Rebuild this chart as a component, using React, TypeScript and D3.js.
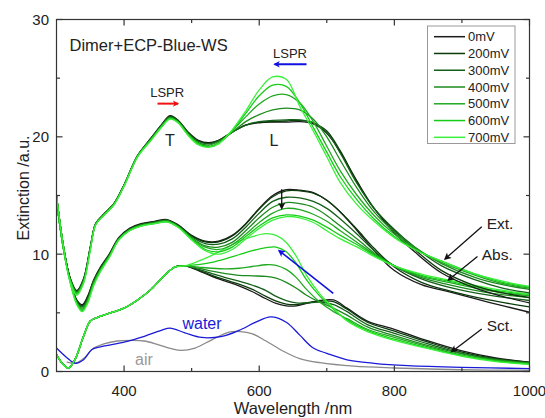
import * as d3 from "d3";

// legend / series
const voltages = ["0mV", "200mV", "300mV", "400mV", "500mV", "600mV", "700mV"];
const voltColors = ["#1b1b1b", "#0b3b0b", "#14601a", "#1d8a1d", "#22a922", "#16cc16", "#3af03a"];

// Extinction spectra
const extWl = [300, 310, 320, 330, 340, 350, 358, 370, 385, 400, 420, 440, 455, 468, 480, 495, 510, 525, 540, 560, 580, 600, 620, 640, 660, 680, 700, 720, 745, 770, 800, 830, 870, 920, 960, 1000];
const ext0 = [15.0, 10.8, 8.0, 6.9, 7.9, 10.6, 12.6, 13.4, 14.3, 15.9, 18.4, 19.9, 21.0, 21.8, 21.4, 20.4, 19.7, 19.5, 19.7, 20.4, 21.0, 21.2, 21.25, 21.25, 21.3, 21.1, 20.3, 18.7, 16.2, 13.9, 11.8, 10.2, 8.4, 7.1, 6.4, 5.85];
const ext200 = [15.0, 10.8, 8.0, 6.85, 7.85, 10.6, 12.6, 13.4, 14.3, 15.9, 18.4, 19.9, 21.0, 21.75, 21.4, 20.35, 19.65, 19.45, 19.7, 20.4, 21.0, 21.25, 21.3, 21.35, 21.4, 21.2, 20.5, 18.8, 16.1, 13.9, 12.0, 10.4, 8.6, 7.3, 6.7, 6.3];
const ext300 = [15.0, 10.8, 7.95, 6.8, 7.8, 10.55, 12.6, 13.4, 14.3, 15.9, 18.4, 19.85, 20.95, 21.7, 21.35, 20.3, 19.6, 19.4, 19.65, 20.4, 21.0, 21.3, 21.4, 21.45, 21.45, 21.2, 20.4, 18.6, 16.0, 13.9, 12.1, 10.6, 9.0, 7.8, 7.1, 6.7];
const ext400 = [15.0, 10.75, 7.9, 6.75, 7.75, 10.5, 12.55, 13.4, 14.3, 15.85, 18.35, 19.8, 20.9, 21.65, 21.3, 20.25, 19.5, 19.3, 19.6, 20.4, 21.3, 21.9, 22.3, 22.45, 22.3, 21.5, 20.0, 18.0, 15.6, 13.6, 11.9, 10.6, 9.2, 8.0, 7.4, 7.0];
const ext500 = [15.0, 10.75, 7.85, 6.65, 7.65, 10.45, 12.55, 13.35, 14.25, 15.85, 18.35, 19.8, 20.85, 21.6, 21.25, 20.2, 19.45, 19.2, 19.5, 20.5, 21.7, 22.8, 23.5, 23.6, 22.9, 21.3, 19.2, 17.1, 15.0, 13.3, 11.7, 10.5, 9.3, 8.2, 7.5, 7.1];
const ext600 = [15.0, 10.7, 7.8, 6.6, 7.6, 10.4, 12.5, 13.3, 14.2, 15.8, 18.3, 19.75, 20.8, 21.55, 21.2, 20.15, 19.4, 19.15, 19.45, 20.5, 22.0, 23.5, 24.4, 24.3, 22.9, 20.8, 18.7, 16.6, 14.6, 13.0, 11.5, 10.4, 9.4, 8.3, 7.6, 7.2];
const ext700 = [15.0, 10.7, 7.7, 6.5, 7.5, 10.3, 12.5, 13.3, 14.2, 15.8, 18.3, 19.7, 20.8, 21.5, 21.2, 20.1, 19.3, 19.1, 19.4, 20.6, 22.2, 24.0, 25.1, 24.9, 22.6, 20.5, 18.3, 16.1, 14.2, 12.8, 11.4, 10.4, 9.4, 8.3, 7.7, 7.25];

// Absorption spectra
const absWl = [300, 310, 320, 330, 338, 346, 355, 365, 378, 392, 408, 425, 445, 463, 480, 500, 520, 540, 560, 580, 600, 620, 640, 660, 680, 700, 720, 745, 770, 800, 840, 880, 940, 1000];
const abs0 = [14.6, 10.6, 7.9, 6.1, 5.7, 6.4, 7.8, 8.9, 10.0, 11.4, 12.2, 12.6, 12.8, 12.95, 12.5, 11.6, 11.1, 11.1, 11.6, 12.6, 13.9, 15.0, 15.5, 15.45, 15.25, 14.6, 13.6, 12.0, 10.3, 8.6, 7.4, 6.8, 5.9, 5.05];
const abs200 = [14.6, 10.6, 7.9, 6.05, 5.6, 6.3, 7.75, 8.85, 9.95, 11.35, 12.15, 12.55, 12.75, 12.9, 12.45, 11.55, 11.05, 11.05, 11.55, 12.55, 13.85, 14.9, 15.4, 15.4, 15.2, 14.6, 13.6, 12.1, 10.5, 8.9, 7.6, 6.9, 6.1, 5.5];
const abs300 = [14.6, 10.6, 7.85, 6.0, 5.5, 6.2, 7.7, 8.8, 9.9, 11.3, 12.1, 12.5, 12.7, 12.9, 12.4, 11.5, 10.9, 10.85, 11.3, 12.3, 13.5, 14.5, 14.85, 14.8, 14.5, 13.9, 13.0, 11.7, 10.3, 9.0, 7.9, 7.2, 6.5, 6.05];
const abs400 = [14.6, 10.55, 7.8, 5.9, 5.4, 6.1, 7.6, 8.7, 9.85, 11.3, 12.1, 12.5, 12.7, 12.85, 12.4, 11.4, 10.7, 10.6, 11.0, 12.0, 13.1, 14.0, 14.4, 14.3, 14.0, 13.3, 12.4, 11.3, 10.1, 9.0, 8.0, 7.4, 6.7, 6.3];
const abs500 = [14.6, 10.55, 7.75, 5.85, 5.3, 6.0, 7.5, 8.65, 9.8, 11.25, 12.05, 12.45, 12.65, 12.8, 12.35, 11.35, 10.6, 10.4, 10.8, 11.7, 12.7, 13.5, 13.9, 13.8, 13.4, 12.8, 12.0, 11.0, 10.0, 9.0, 8.1, 7.6, 6.9, 6.45];
const abs600 = [14.6, 10.5, 7.7, 5.8, 5.2, 5.9, 7.4, 8.6, 9.75, 11.2, 12.0, 12.4, 12.6, 12.75, 12.3, 11.3, 10.4, 10.2, 10.6, 11.5, 12.4, 13.1, 13.35, 13.25, 12.9, 12.3, 11.6, 10.8, 9.9, 9.0, 8.2, 7.7, 7.0, 6.55];
const abs700 = [14.6, 10.5, 7.6, 5.7, 5.1, 5.8, 7.3, 8.5, 9.7, 11.2, 12.0, 12.4, 12.6, 12.75, 12.3, 11.2, 10.3, 10.0, 10.4, 11.3, 12.2, 12.9, 13.2, 13.1, 12.7, 12.0, 11.3, 10.6, 9.8, 9.0, 8.3, 7.8, 7.1, 6.6];

// Scattering spectra
const sctWl = [300, 310, 318, 328, 340, 350, 358, 375, 400, 420, 440, 460, 475, 490, 510, 530, 550, 570, 590, 610, 625, 640, 655, 670, 690, 710, 730, 760, 800, 850, 900, 950, 1000];
const sct0 = [1.45, 0.6, 0.3, 1.1, 3.0, 4.3, 4.55, 4.9, 5.4, 6.1, 7.0, 8.2, 8.9, 9.0, 8.6, 8.1, 7.7, 7.3, 6.8, 6.2, 5.8, 5.6, 5.6, 5.8, 6.05, 6.1, 5.4, 4.3, 3.6, 2.6, 1.75, 1.15, 0.8];
const sct200 = [1.45, 0.6, 0.3, 1.1, 3.0, 4.3, 4.55, 4.9, 5.4, 6.1, 7.0, 8.2, 8.9, 9.0, 8.65, 8.2, 7.8, 7.45, 7.0, 6.4, 6.0, 5.75, 5.7, 5.85, 6.0, 5.95, 5.3, 4.2, 3.45, 2.5, 1.65, 1.1, 0.78];
const sct300 = [1.45, 0.6, 0.3, 1.1, 3.0, 4.3, 4.55, 4.9, 5.4, 6.1, 7.0, 8.2, 8.9, 9.0, 8.7, 8.35, 8.0, 7.7, 7.35, 6.9, 6.4, 6.05, 5.85, 5.85, 5.9, 5.7, 5.1, 4.0, 3.25, 2.35, 1.55, 1.05, 0.75];
const sct400 = [1.45, 0.6, 0.3, 1.1, 3.0, 4.3, 4.55, 4.9, 5.4, 6.1, 7.0, 8.2, 8.9, 9.0, 8.8, 8.55, 8.35, 8.2, 8.15, 8.1, 7.95, 7.6, 7.1, 6.5, 5.9, 5.4, 4.8, 3.8, 3.05, 2.2, 1.5, 1.0, 0.72];
const sct500 = [1.45, 0.6, 0.3, 1.1, 3.0, 4.3, 4.55, 4.9, 5.4, 6.1, 7.0, 8.2, 8.9, 9.0, 8.9, 8.8, 8.75, 8.8, 8.95, 9.1, 9.05, 8.7, 8.0, 7.0, 5.9, 5.1, 4.5, 3.6, 2.9, 2.1, 1.4, 0.95, 0.68];
const sct600 = [1.45, 0.6, 0.3, 1.1, 3.0, 4.3, 4.55, 4.9, 5.4, 6.1, 7.0, 8.2, 8.9, 9.0, 9.1, 9.3, 9.6, 9.95, 10.3, 10.55, 10.6, 10.2, 9.2, 7.8, 6.4, 5.3, 4.4, 3.5, 2.75, 2.0, 1.35, 0.9, 0.64];
const sct700 = [1.45, 0.6, 0.3, 1.1, 3.0, 4.3, 4.55, 4.9, 5.4, 6.1, 7.0, 8.2, 8.9, 9.0, 9.4, 9.9, 10.5, 11.1, 11.5, 11.75, 11.6, 11.0, 9.8, 8.2, 6.6, 5.4, 4.3, 3.4, 2.65, 1.95, 1.3, 0.85, 0.6];

// reference spectra
const waterWl = [300, 315, 328, 340, 352, 365, 400, 430, 455, 468, 490, 515, 545, 570, 595, 617, 640, 660, 680, 700, 730, 770, 820, 900, 1000];
const water = [2.0, 1.2, 0.7, 1.0, 1.85, 2.1, 2.5, 3.0, 3.5, 3.7, 3.3, 2.9, 3.0, 3.5, 4.2, 4.65, 4.2, 3.1, 2.0, 1.55, 1.0, 0.7, 0.5, 0.35, 0.25];
const airWl = [315, 330, 342, 355, 370, 390, 410, 430, 450, 470, 485, 505, 530, 555, 572, 590, 610, 635, 660, 690, 740, 800, 900, 1000];
const air = [0.8, 0.75, 1.2, 2.0, 2.35, 2.6, 2.65, 2.6, 2.3, 1.95, 1.8, 2.0, 2.7, 3.35, 3.4, 3.2, 2.6, 1.75, 1.1, 0.75, 0.45, 0.3, 0.15, 0.1];

const extSeries = [ext0, ext200, ext300, ext400, ext500, ext600, ext700];
const absSeries = [abs0, abs200, abs300, abs400, abs500, abs600, abs700];
const sctSeries = [sct0, sct200, sct300, sct400, sct500, sct600, sct700];

const xTicks = [400, 600, 800, 1000];
const xMinor = [500, 700, 900];
const yTicks = [0, 10, 20, 30];
const yMinor = [5, 15, 25];

const font = "'Liberation Sans', Arial, sans-serif";

export default function App() {
  const width = 545;
  const height = 418;
  const x = d3.scaleLinear().domain([300, 1000]).range([56.5, 529.5]);
  const y = d3.scaleLinear().domain([0, 30]).range([371.5, 19.5]);
  const [x0, x1] = x.range();
  const [y0, y1] = y.range();

  const path = (wl: number[], vals: number[]) =>
    d3
      .line<number>()
      .x((_, i) => x(wl[i]))
      .y((d) => y(d))
      .curve(d3.curveCatmullRom.alpha(0.5))(vals) || "";

  // arrow from (wl, val) to (wl, val) in data units
  const arrow = (a: [number, number], b: [number, number], color: string, id: string, w = 1.3) => (
    <line
      x1={x(a[0])}
      y1={y(a[1])}
      x2={x(b[0])}
      y2={y(b[1])}
      stroke={color}
      strokeWidth={w}
      markerEnd={`url(#${id})`}
    />
  );

  const marker = (id: string, color: string, size: number) => (
    <marker
      id={id}
      viewBox="0 0 10 10"
      refX="8"
      refY="5"
      markerUnits="userSpaceOnUse"
      markerWidth={size}
      markerHeight={size * 0.8}
      orient="auto"
    >
      <path d="M0,0 L10,5 L0,10 L2.5,5 z" fill={color} />
    </marker>
  );

  const legendRows = voltages.map((v, i) => ({ v, c: voltColors[i], yy: 36.7 + i * 16.77 }));

  return (
    <svg
      width={width}
      height={height}
      style={{ position: "absolute", left: 0, top: 0 }}
      fontFamily={font}
    >
      <rect width={width} height={height} fill="#fff" />
      <defs>
        <clipPath id="plot">
          <rect x={x0} y={y1} width={x1 - x0} height={y0 - y1} />
        </clipPath>
        {marker("ahK", "#111", 9)}
        {marker("ahB", "#1010e0", 9)}
        {marker("ahR", "#ee1111", 8)}
        {marker("ahB2", "#1010e0", 8)}
      </defs>

      <g clipPath="url(#plot)" fill="none" strokeWidth={1.3}>
        <path d={path(airWl, air)} stroke="#8a8a8a" />
        <path d={path(waterWl, water)} stroke="#1a1ad8" />
        {sctSeries.map((s, i) => (
          <path key={"s" + i} d={path(sctWl, s)} stroke={voltColors[i]} />
        ))}
        {absSeries.map((s, i) => (
          <path key={"a" + i} d={path(absWl, s)} stroke={voltColors[i]} />
        ))}
        {extSeries.map((s, i) => (
          <path key={"e" + i} d={path(extWl, s)} stroke={voltColors[i]} />
        ))}
      </g>

      {/* frame */}
      <rect x={x0} y={y1} width={x1 - x0} height={y0 - y1} fill="none" stroke="#333" strokeWidth={1.2} />

      {/* ticks */}
      <g stroke="#333" strokeWidth={1.2}>
        {xTicks.map((t) => (
          <g key={"xt" + t}>
            <line x1={x(t)} x2={x(t)} y1={y0} y2={y0 - 6} />
            <line x1={x(t)} x2={x(t)} y1={y1} y2={y1 + 6} />
          </g>
        ))}
        {xMinor.map((t) => (
          <g key={"xm" + t}>
            <line x1={x(t)} x2={x(t)} y1={y0} y2={y0 - 3.5} />
            <line x1={x(t)} x2={x(t)} y1={y1} y2={y1 + 3.5} />
          </g>
        ))}
        {yTicks.map((t) => (
          <g key={"yt" + t}>
            <line x1={x0} x2={x0 + 6} y1={y(t)} y2={y(t)} />
            <line x1={x1} x2={x1 - 6} y1={y(t)} y2={y(t)} />
          </g>
        ))}
        {yMinor.map((t) => (
          <g key={"ym" + t}>
            <line x1={x0} x2={x0 + 3.5} y1={y(t)} y2={y(t)} />
            <line x1={x1} x2={x1 - 3.5} y1={y(t)} y2={y(t)} />
          </g>
        ))}
      </g>

      {/* tick labels */}
      <g fontSize={15} fill="#222">
        {xTicks.map((t) => (
          <text key={"xl" + t} x={x(t)} y={396} textAnchor="middle">
            {t}
          </text>
        ))}
        {yTicks.map((t) => (
          <text key={"yl" + t} x={x0 - 7.5} y={y(t) + 5.4} textAnchor="end">
            {t}
          </text>
        ))}
      </g>

      {/* axis titles */}
      <text x={(x0 + x1) / 2} y={414} textAnchor="middle" fontSize={16.5} fill="#222">
        Wavelength /nm
      </text>
      <text transform="translate(29,188) rotate(-90)" textAnchor="middle" fontSize={16} fill="#222">
        Extinction /a.u.
      </text>

      {/* legend */}
      <rect x={427.5} y={26} width={87.5} height={117.5} fill="#fff" stroke="#999" strokeWidth={1} />
      {legendRows.map((r) => (
        <g key={r.v}>
          <line x1={434} x2={465} y1={r.yy} y2={r.yy} stroke={r.c} strokeWidth={1.5} />
          <text x={468} y={r.yy + 4.7} fontSize={13} fill="#222">
            {r.v}
          </text>
        </g>
      ))}

      {/* annotations */}
      <text x={69.5} y={51} fontSize={16.5} fill="#222">
        Dimer+ECP-Blue-WS
      </text>
      <text x={290} y={57.5} fontSize={13} textAnchor="middle" fill="#222">
        LSPR
      </text>
      {arrow([670, 26.18], [622.8, 26.18], "#1010e0", "ahB2", 2)}
      <text x={167.2} y={96.8} fontSize={13} textAnchor="middle" fill="#222">
        LSPR
      </text>
      {arrow([449.5, 22.83], [479.8, 22.83], "#ee1111", "ahR", 2)}
      <text x={170} y={145.7} fontSize={16} textAnchor="middle" fill="#222">
        T
      </text>
      <text x={274} y={145.7} fontSize={16} textAnchor="middle" fill="#222">
        L
      </text>
      {arrow([633.3, 15.53], [633.3, 13.9], "#111", "ahK", 1.3)}
      {arrow([709.6, 6.66], [629.3, 10.31], "#1010e0", "ahB", 1.6)}

      <text x={486.7} y={229} fontSize={15.5} fill="#222">Ext.</text>
      {arrow([929.3, 12.34], [875, 9.59], "#111", "ahK", 1.3)}
      <text x={481.7} y={259.6} fontSize={15.5} fill="#222">Abs.</text>
      {arrow([923, 9.8], [880, 7.8], "#111", "ahK", 1.3)}
      <text x={486.7} y={331.3} fontSize={15.5} fill="#222">Sct.</text>
      {arrow([929.3, 3.62], [885, 1.69], "#111", "ahK", 1.3)}

      <text x={202} y={329} fontSize={16} textAnchor="middle" fill="#1a1ad8">
        water
      </text>
      <text x={144} y={365} fontSize={16} textAnchor="middle" fill="#999">
        air
      </text>
    </svg>
  );
}
